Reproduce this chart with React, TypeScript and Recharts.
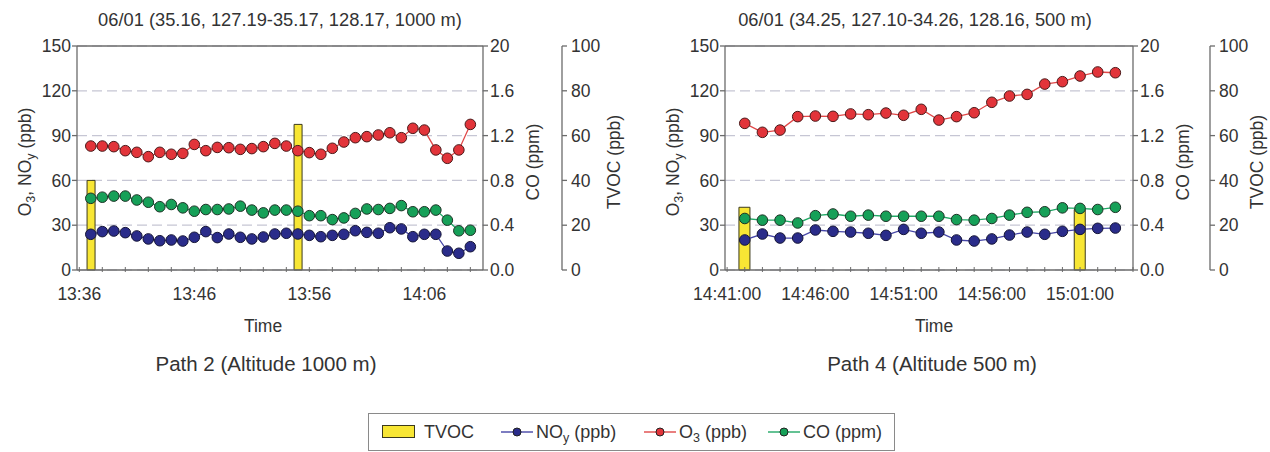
import { ComposedChart, Line, Bar, XAxis, YAxis, CartesianGrid, ReferenceLine } from "recharts";

const FONT = '"Liberation Sans", Arial, Helvetica, sans-serif';
const AXIS = "#6b6b6b";
const INK = "#333333";
const GRID = "#c6c6d4";

const O3_COLOR = "#e04848";
const O3_DOT = "#e2343a";
const NOY_COLOR = "#4646a6";
const NOY_DOT = "#2a2c8a";
const CO_COLOR = "#22a866";
const CO_DOT = "#16a058";
const TVOC_FILL = "#f8e634";

// Path 2, 06/01, 1000 m
const path2Times = [
  "13:37", "13:38", "13:39", "13:40", "13:41", "13:42", "13:43", "13:44", "13:45", "13:46",
  "13:47", "13:48", "13:49", "13:50", "13:51", "13:52", "13:53", "13:54", "13:55", "13:56",
  "13:57", "13:58", "13:59", "14:00", "14:01", "14:02", "14:03", "14:04", "14:05", "14:06",
  "14:07", "14:08", "14:09", "14:10",
];
const path2O3 = [
  83, 83, 82.6, 79.9, 78.8, 75.9, 78.8, 77.5, 78.1, 84.1,
  79.9, 82.1, 81.9, 80.8, 81.3, 82.6, 84.8, 83, 79.9, 78.6,
  77.5, 81.5, 85.7, 88.6, 89.3, 90.4, 91.9, 88.6, 94.9, 93.7,
  80.4, 74.8, 80.4, 97.5,
];
const path2NOy = [
  23.9, 25.7, 26.1, 25.0, 22.8, 20.8, 19.6, 20.1, 19.4, 21.9,
  25.7, 21.7, 24.1, 21.9, 20.8, 22.1, 24.1, 24.6, 24.1, 23.2,
  22.3, 23.2, 23.9, 26.3, 25.2, 24.6, 28.3, 27.5, 22.3, 23.9,
  23.9, 12.7, 11.2, 15.6,
];
const path2CO = [
  0.64, 0.65, 0.66, 0.66, 0.625, 0.605, 0.565, 0.585, 0.555, 0.525,
  0.54, 0.54, 0.545, 0.57, 0.535, 0.51, 0.535, 0.535, 0.525, 0.485,
  0.485, 0.45, 0.465, 0.505, 0.545, 0.54, 0.55, 0.575, 0.52, 0.52,
  0.535, 0.445, 0.35, 0.355,
];
const path2TvocTimes = ["13:37", "13:55"];
const path2Tvoc = [40, 65];
const path2Labels = ["13:36", "13:46", "13:56", "14:06"];

// Path 4, 06/01, 500 m
const path4Times = [
  "14:42", "14:43", "14:44", "14:45", "14:46", "14:47", "14:48", "14:49", "14:50", "14:51",
  "14:52", "14:53", "14:54", "14:55", "14:56", "14:57", "14:58", "14:59", "15:00", "15:01",
  "15:02", "15:03",
];
const path4O3 = [
  98.2, 92.2, 93.7, 102.7, 103.1, 102.9, 104.5, 104.0, 105.1, 103.6,
  107.6, 100.4, 102.7, 105.3, 112.3, 116.5, 117.6, 124.5, 126.1, 129.9,
  132.6, 132.1,
];
const path4NOy = [
  20.1, 24.1, 21.4, 21.4, 26.8, 25.9, 25.4, 24.6, 23.2, 27.2,
  24.6, 25.4, 20.1, 19.4, 20.8, 23.4, 25.4, 23.9, 25.9, 27.2,
  27.9, 28.1,
];
const path4CO = [
  0.46, 0.445, 0.445, 0.42, 0.485, 0.5, 0.48, 0.49, 0.48, 0.48,
  0.48, 0.48, 0.45, 0.445, 0.46, 0.49, 0.515, 0.52, 0.555, 0.55,
  0.54, 0.56,
];
const path4TvocTimes = ["14:42", "15:01"];
const path4Tvoc = [28, 27];
const path4Labels = ["14:41:00", "14:46:00", "14:51:00", "14:56:00", "15:01:00"];

const ppbTicks = [0, 30, 60, 90, 120, 150];
const coTicks = [0, 0.4, 0.8, 1.2, 1.6, 2];
const coTickLabels = ["0.0", "0.4", "0.8", "1.2", "1.6", "20"];
const tvocTicks = [0, 20, 40, 60, 80, 100];

const toMin = (s: string) => {
  const [h, m] = s.split(":").map(Number);
  return h * 60 + m;
};

function buildRows(times: string[], o3: number[], noy: number[], co: number[], tvocTimes: string[], tvoc: number[], origin: number) {
  return times.map((t, i) => {
    const k = tvocTimes.indexOf(t);
    return { t: toMin(t) - origin, o3: o3[i], noy: noy[i], co: co[i], tvoc: k >= 0 ? tvoc[k] : null };
  });
}

type Part = { s: string; sub?: boolean };

const O3_NOY: Part[] = [{ s: "O" }, { s: "3", sub: true }, { s: ", NO" }, { s: "y", sub: true }, { s: " (ppb)" }];
const CO_PPM: Part[] = [{ s: "CO (ppm)" }];
const TVOC_PPB: Part[] = [{ s: "TVOC (ppb)" }];

function renderParts(parts: Part[]) {
  let shifted = false;
  return parts.map((p, i) => {
    let dy = 0;
    if (p.sub && !shifted) { dy = 4; shifted = true; }
    else if (!p.sub && shifted) { dy = -4; shifted = false; }
    return (
      <tspan key={i} dy={dy} fontSize={p.sub ? 12.5 : undefined}>{p.s}</tspan>
    );
  });
}

const axisTitle = (parts: Part[], dx: number) => (props: any) => {
  const vb = props.viewBox || {};
  const cx = vb.x + dx;
  const cy = vb.y + vb.height / 2 + 4;
  return (
    <text x={cx} y={cy} transform={`rotate(-90 ${cx} ${cy})`} textAnchor="middle" fill={INK} fontSize={17.5}>
      {renderParts(parts)}
    </text>
  );
};

const TimeTick = (props: any) => {
  const { x, y, payload, labels } = props;
  const label = labels[payload.value];
  return (
    <g>
      <line x1={x} x2={x} y1={y - 3} y2={y + 2} stroke={AXIS} />
      {label && (
        <text x={x} y={y + 18} dy="0.71em" textAnchor="middle" fill={INK} fontSize={17.5}>{label}</text>
      )}
    </g>
  );
};

interface PanelProps {
  rows: ReturnType<typeof buildRows>;
  left: number;
  width: number;
  domain: [number, number];
  xTicks: number[];
  labels: Record<number, string>;
  yW: number;
  coW: number;
  tvW: number;
  leftDx: number;
  tvDx: number;
  barW: number;
}

function Panel({ rows, left, width, domain, xTicks, labels, yW, coW, tvW, leftDx, tvDx, barW }: PanelProps) {
  return (
    <div style={{ position: "absolute", left, top: 0 }}>
      <ComposedChart width={width} height={320} data={rows} margin={{ top: 46, right: 0, bottom: 0, left: 0 }}>
        <CartesianGrid yAxisId="ppb" vertical={false} stroke={GRID} strokeDasharray="10 5" strokeWidth={1.2} />
        <XAxis
          dataKey="t"
          type="number"
          domain={domain}
          ticks={xTicks}
          interval={0}
          allowDataOverflow
          height={50}
          tickSize={0}
          tickMargin={0}
          tickLine={false}
          stroke={AXIS}
          strokeWidth={1.3}
          tick={<TimeTick labels={labels} />}
        />
        <YAxis
          yAxisId="ppb"
          domain={[0, 150]}
          ticks={ppbTicks}
          interval={0}
          width={yW}
          tickSize={5}
          tickMargin={1}
          stroke={AXIS}
          strokeWidth={1.3}
          tick={{ fill: INK, fontSize: 17.5 }}
          label={{ content: axisTitle(O3_NOY, leftDx) }}
        />
        <YAxis
          yAxisId="co"
          orientation="right"
          domain={[0, 2]}
          ticks={coTicks}
          interval={0}
          width={coW}
          tickSize={5}
          tickMargin={2}
          stroke={AXIS}
          strokeWidth={1.3}
          tick={{ fill: INK, fontSize: 17.5 }}
          tickFormatter={(v: number) => coTickLabels[coTicks.indexOf(v)]}
          label={{ content: axisTitle(CO_PPM, 56) }}
        />
        <YAxis
          yAxisId="tvoc"
          orientation="right"
          domain={[0, 100]}
          ticks={tvocTicks}
          interval={0}
          width={tvW}
          tickSize={5}
          tickMargin={4}
          stroke={AXIS}
          strokeWidth={1.3}
          tick={{ fill: INK, fontSize: 17.5 }}
          label={{ content: axisTitle(TVOC_PPB, tvDx) }}
        />
        <ReferenceLine yAxisId="ppb" y={150} stroke={AXIS} strokeWidth={1.3} />
        <Bar yAxisId="tvoc" dataKey="tvoc" barSize={barW} fill={TVOC_FILL} stroke="#3c3a1c" strokeWidth={1} isAnimationActive={false} />
        <Line yAxisId="co" dataKey="co" stroke={CO_COLOR} strokeWidth={1.3}
          dot={{ r: 5.3, fill: CO_DOT, stroke: "#1d3326", strokeWidth: 1 }} isAnimationActive={false} />
        <Line yAxisId="ppb" dataKey="noy" stroke={NOY_COLOR} strokeWidth={1.3}
          dot={{ r: 5.3, fill: NOY_DOT, stroke: "#161638", strokeWidth: 1 }} isAnimationActive={false} />
        <Line yAxisId="ppb" dataKey="o3" stroke={O3_COLOR} strokeWidth={1.3}
          dot={{ r: 5.3, fill: O3_DOT, stroke: "#4a1a1a", strokeWidth: 1 }} isAnimationActive={false} />
      </ComposedChart>
    </div>
  );
}

function range(a: number, b: number, step: number) {
  const out: number[] = [];
  for (let v = a; v <= b + 1e-9; v += step) out.push(v);
  return out;
}

function labelMap(labels: string[], origin: number) {
  const m: Record<number, string> = {};
  labels.forEach((l) => { m[toMin(l) - origin] = l; });
  return m;
}

const Text = ({ x, y, w, size, children }: { x: number; y: number; w: number; size: number; children: any }) => (
  <div style={{ position: "absolute", left: x - w / 2, top: y, width: w, textAlign: "center", fontSize: size, color: INK, whiteSpace: "nowrap", lineHeight: 1 }}>
    {children}
  </div>
);

const Sub = ({ c }: { c: string }) => <span style={{ fontSize: 12.5, verticalAlign: "-4px" }}>{c}</span>;

const LineIcon = ({ color, dot, x }: { color: string; dot: string; x: number }) => (
  <svg style={{ position: "absolute", left: x, top: 12 }} width={32} height={12}>
    <line x1={0} x2={32} y1={6} y2={6} stroke={color} strokeWidth={1.4} />
    <circle cx={16} cy={6} r={4} fill={dot} stroke="#222" strokeWidth={1} />
  </svg>
);

export default function App() {
  const o2 = toMin(path2Labels[0]);
  const o4 = toMin(path4Labels[0]);
  const rows2 = buildRows(path2Times, path2O3, path2NOy, path2CO, path2TvocTimes, path2Tvoc, o2);
  const rows4 = buildRows(path4Times, path4O3, path4NOy, path4CO, path4TvocTimes, path4Tvoc, o4);

  return (
    <div style={{ position: "absolute", left: 0, top: 0, width: 1270, height: 452, background: "#fff", fontFamily: FONT, overflow: "hidden" }}>
      <Text x={280} y={11} w={440} size={18.3}>06/01 (35.16, 127.19-35.17, 128.17, 1000 m)</Text>
      <Text x={915} y={11} w={440} size={18.3}>06/01 (34.25, 127.10-34.26, 128.16, 500 m)</Text>

      <Panel rows={rows2} left={0} width={640} domain={[-0.2, 35.1]} xTicks={range(0, 34, 2)}
        labels={labelMap(path2Labels, o2)} yW={77} coW={79} tvW={78} leftDx={31} tvDx={58} barW={8} />
      <Panel rows={rows4} left={640} width={630} domain={[-0.12, 23]} xTicks={range(0, 23, 1)}
        labels={labelMap(path4Labels, o4)} yW={85} coW={77} tvW={60} leftDx={39} tvDx={53} barW={11} />

      <Text x={263} y={318} w={100} size={17.5}>Time</Text>
      <Text x={266} y={354} w={320} size={20.5}>Path 2 (Altitude 1000 m)</Text>
      <Text x={934} y={318} w={100} size={17.5}>Time</Text>
      <Text x={932} y={354} w={320} size={20.5}>Path 4 (Altitude 500 m)</Text>

      <div style={{ position: "absolute", left: 368, top: 413, width: 527, height: 38, border: "1px solid #8a8a8a", boxSizing: "border-box", fontSize: 18, color: INK }}>
        <div style={{ position: "absolute", left: 13, top: 11, width: 33, height: 13, background: TVOC_FILL, border: "1px solid #3c3a1c", boxSizing: "border-box" }} />
        <div style={{ position: "absolute", left: 55, top: 8 }}>TVOC</div>
        <LineIcon color={NOY_COLOR} dot={NOY_DOT} x={132} />
        <div style={{ position: "absolute", left: 167, top: 8 }}>NO<Sub c="y" /> (ppb)</div>
        <LineIcon color={O3_COLOR} dot={O3_DOT} x={275} />
        <div style={{ position: "absolute", left: 310, top: 8 }}>O<Sub c="3" /> (ppb)</div>
        <LineIcon color={CO_COLOR} dot={CO_DOT} x={399} />
        <div style={{ position: "absolute", left: 434, top: 8 }}>CO (ppm)</div>
      </div>
    </div>
  );
}
